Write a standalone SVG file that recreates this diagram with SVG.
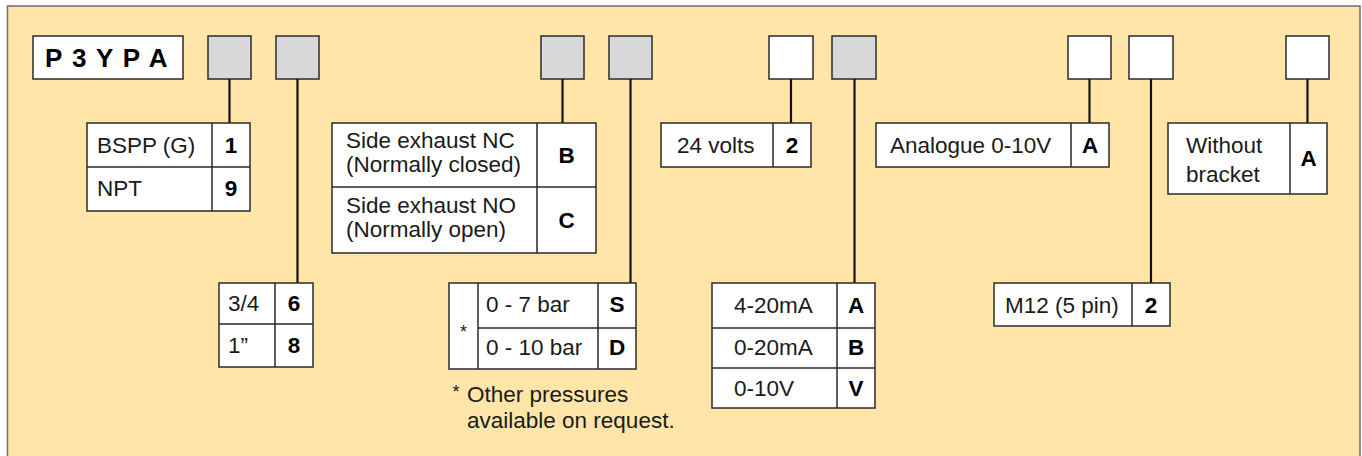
<svg xmlns="http://www.w3.org/2000/svg" width="1362" height="456" viewBox="0 0 1362 456">
<style>
.bg{fill:#FFE5A8;stroke:#6b6b6b;stroke-width:1.5}
.cell{fill:#fff;stroke:#2a2a2a;stroke-width:1.5}
.gray{fill:#D8D8DA;stroke:#2a2a2a;stroke-width:1.5}
.div{stroke:#2a2a2a;stroke-width:1.5;fill:none}
.con line{stroke:#111;stroke-width:2.2}
text{font-family:"Liberation Sans",Arial,Helvetica,sans-serif;font-size:22.5px;fill:#1a1a1a}
.b{font-weight:bold;text-anchor:middle;fill:#000}
.star{font-size:18px;text-anchor:middle}
</style>
<rect class="bg" x="7.5" y="6" width="1352.5" height="470"/>

<g id="code">
<rect class="cell" x="33" y="36" width="150" height="43"/>
<text x="45" y="66.5" style="font-weight:bold;font-size:26px;fill:#000;letter-spacing:1.4px">P 3 Y P A</text>
</g>
<g id="slots">
<rect class="gray" x="208" y="36" width="43" height="43"/>
<rect class="gray" x="276" y="36" width="43" height="43"/>
<rect class="gray" x="541" y="36" width="43" height="43"/>
<rect class="gray" x="609" y="36" width="43" height="43"/>
<rect class="cell" x="769" y="36" width="44" height="43"/>
<rect class="gray" x="832" y="36" width="44" height="43"/>
<rect class="cell" x="1068" y="36" width="43" height="43"/>
<rect class="cell" x="1129" y="36" width="44" height="43"/>
<rect class="cell" x="1286" y="36" width="43" height="43"/>
</g>

<g id="connectors" class="con">
<line x1="229.5" y1="79" x2="229.5" y2="123"/>
<line x1="297.5" y1="79" x2="297.5" y2="283"/>
<line x1="562.5" y1="79" x2="562.5" y2="123"/>
<line x1="630.5" y1="79" x2="630.5" y2="283"/>
<line x1="791" y1="79" x2="791" y2="123"/>
<line x1="854.5" y1="79" x2="854.5" y2="283"/>
<line x1="1089.5" y1="79" x2="1089.5" y2="123"/>
<line x1="1151" y1="79" x2="1151" y2="283"/>
<line x1="1307.5" y1="79" x2="1307.5" y2="123"/>
</g>

<g id="thread">
<rect class="cell" x="87" y="123" width="163" height="88"/>
<path class="div" d="M212 123V211M87 167H250"/>
<text x="97" y="153">BSPP (G)</text>
<text class="b" x="231" y="153">1</text>
<text x="97" y="196">NPT</text>
<text class="b" x="231" y="196">9</text>
</g>

<g id="size">
<rect class="cell" x="219" y="283" width="94" height="84"/>
<path class="div" d="M275 283V367M219 324H313"/>
<text x="228" y="311">3/4</text>
<text class="b" x="294" y="311">6</text>
<text x="228" y="353">1”</text>
<text class="b" x="294" y="353">8</text>
</g>

<g id="function">
<rect class="cell" x="332" y="123" width="264" height="130"/>
<path class="div" d="M537 123V253M332 187H596"/>
<text x="346" y="148">Side exhaust NC</text>
<text x="346" y="172">(Normally closed)</text>
<text class="b" x="566.5" y="163">B</text>
<text x="346" y="213">Side exhaust NO</text>
<text x="346" y="237">(Normally open)</text>
<text class="b" x="566.5" y="228">C</text>
</g>

<g id="pressure">
<rect class="cell" x="449" y="283" width="187" height="86"/>
<path class="div" d="M478 283V369M598 283V369M478 328H636"/>
<text class="star" x="463.5" y="338">*</text>
<text x="486" y="312">0 - 7 bar</text>
<text class="b" x="617" y="312">S</text>
<text x="486" y="355">0 - 10 bar</text>
<text class="b" x="617" y="355">D</text>
</g>
<g id="footnote">
<text class="star" x="456" y="398">*</text>
<text x="467" y="402">Other pressures</text>
<text x="467" y="428">available on request.</text>
</g>

<g id="voltage">
<rect class="cell" x="661" y="123" width="150" height="44"/>
<path class="div" d="M773 123V167"/>
<text x="677" y="152.5">24 volts</text>
<text class="b" x="792" y="152.5">2</text>
</g>

<g id="output">
<rect class="cell" x="712" y="283" width="163" height="125"/>
<path class="div" d="M837 283V408M712 328H875M712 368H875"/>
<text x="734" y="313">4-20mA</text>
<text class="b" x="856" y="313">A</text>
<text x="734" y="355">0-20mA</text>
<text class="b" x="856" y="355">B</text>
<text x="734" y="396">0-10V</text>
<text class="b" x="856" y="396">V</text>
</g>

<g id="signal">
<rect class="cell" x="876" y="123" width="233" height="44"/>
<path class="div" d="M1071 123V167"/>
<text x="890" y="152.5">Analogue 0-10V</text>
<text class="b" x="1090" y="152.5">A</text>
</g>

<g id="connector">
<rect class="cell" x="994" y="283" width="176" height="43"/>
<path class="div" d="M1132 283V326"/>
<text x="1005" y="313">M12 (5 pin)</text>
<text class="b" x="1151" y="313">2</text>
</g>

<g id="bracket">
<rect class="cell" x="1168" y="123" width="159" height="71"/>
<path class="div" d="M1290 123V194"/>
<text x="1186" y="153">Without</text>
<text x="1186" y="182">bracket</text>
<text class="b" x="1308.5" y="166">A</text>
</g>
</svg>
